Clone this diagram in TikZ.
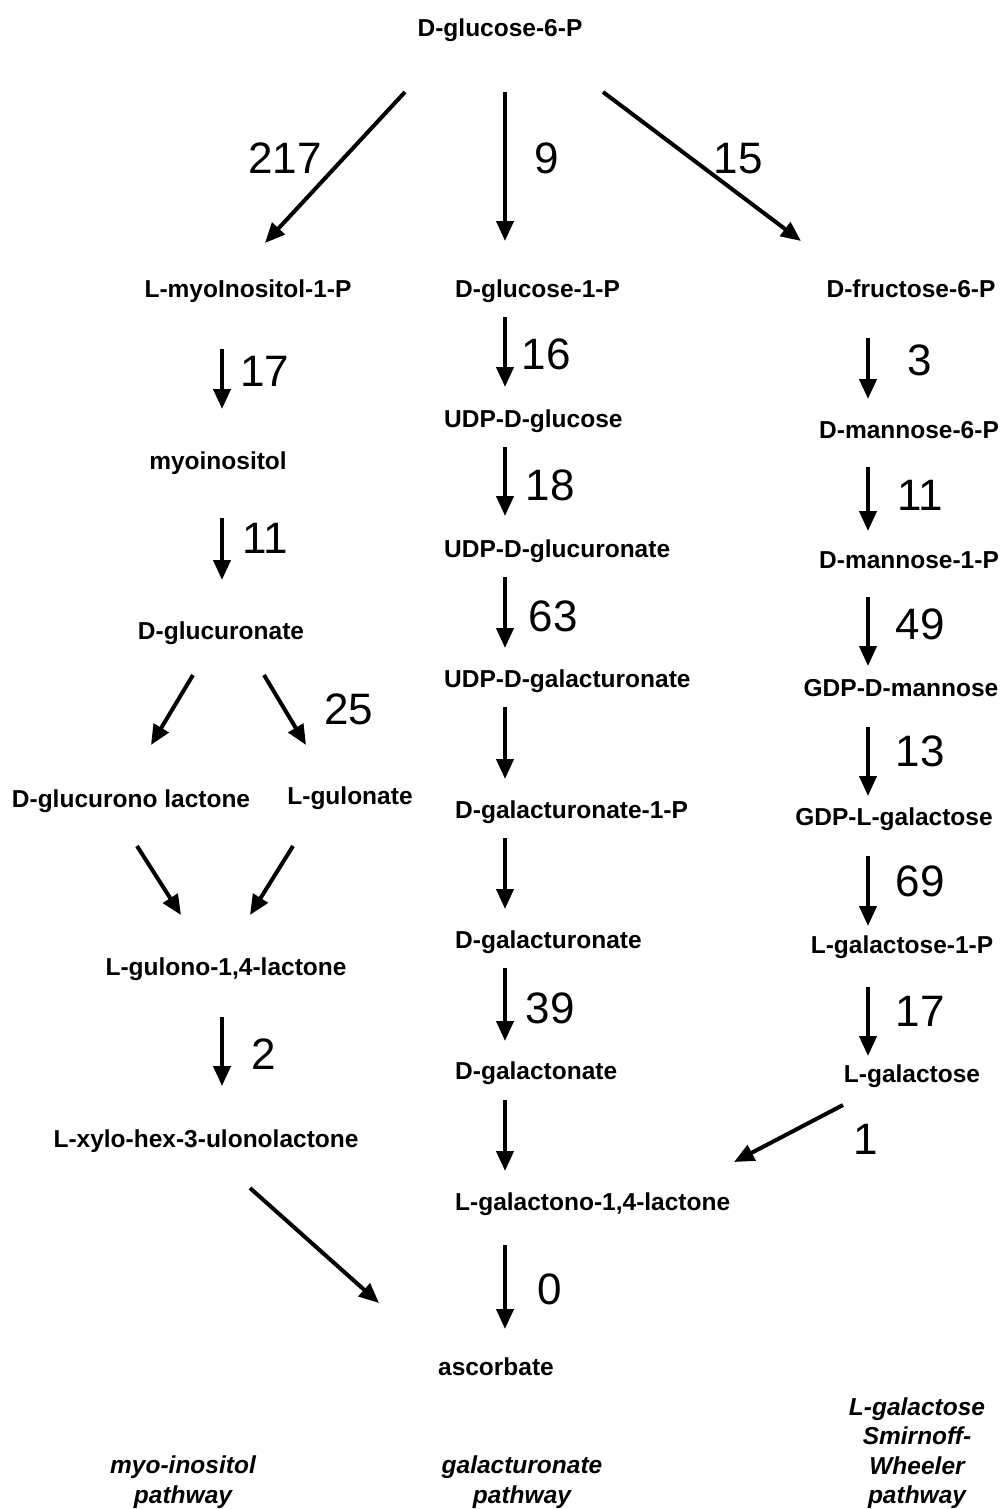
\documentclass[tikz,border=0pt]{standalone}
\usepackage{fontspec}
\setmainfont{Liberation Sans}
\usetikzlibrary{arrows.meta}
\tikzset{
  cpd/.style={font=\bfseries\fontsize{24.5}{29}\selectfont, inner sep=0pt, text height=19pt, text depth=2pt},
  num/.style={font=\fontsize{44}{50}\selectfont, inner sep=0pt, text height=32pt, text depth=0pt},
  pw/.style={font=\bfseries\itshape\fontsize{24.5}{29.3}\selectfont, align=center, inner sep=0pt},
  rx/.style={line width=4pt, -{Triangle[length=20pt,width=17pt]}}
}
\begin{document}
\begin{tikzpicture}[x=1pt,y=-1pt]
\useasboundingbox (0,0) rectangle (1002,1509);
% compounds
\node[cpd] (g6p) at (500,28) {D-glucose-6-P};
\node[cpd] (mip) at (248,289) {L-myoInositol-1-P};
\node[cpd,anchor=west] (g1p) at (455,289) {D-glucose-1-P};
\node[cpd] (f6p) at (911,289) {D-fructose-6-P};
\node[cpd] (myo) at (218,461) {myoinositol};
\node[cpd] (dgl) at (221,631) {D-glucuronate};
\node[cpd] (dgla) at (131,799) {D-glucurono lactone};
\node[cpd] (lgu) at (350,796) {L-gulonate};
\node[cpd] (lgl) at (226,967) {L-gulono-1,4-lactone};
\node[cpd] (xyl) at (206,1139) {L-xylo-hex-3-ulonolactone};
\node[cpd,anchor=west] (udpg) at (444,419) {UDP-D-glucose};
\node[cpd,anchor=west] (udpgu) at (444,549) {UDP-D-glucuronate};
\node[cpd,anchor=west] (udpga) at (444,679) {UDP-D-galacturonate};
\node[cpd,anchor=west] (ga1p) at (455,810) {D-galacturonate-1-P};
\node[cpd,anchor=west] (ga) at (455,940) {D-galacturonate};
\node[cpd,anchor=west] (gn) at (455,1071) {D-galactonate};
\node[cpd,anchor=west] (lgal) at (455,1202) {L-galactono-1,4-lactone};
\node[cpd] (asc) at (496,1367) {ascorbate};
\node[cpd] (m6p) at (909,430) {D-mannose-6-P};
\node[cpd] (m1p) at (909,560) {D-mannose-1-P};
\node[cpd] (gdpm) at (901,688) {GDP-D-mannose};
\node[cpd] (gdpg) at (894,817) {GDP-L-galactose};
\node[cpd] (lg1p) at (902,945) {L-galactose-1-P};
\node[cpd] (lgs) at (912,1074) {L-galactose};
% pathway labels
\node[pw] (pw1) at (183,1482) {myo-inositol\\pathway};
\node[pw] (pw2) at (522,1482) {galacturonate\\pathway};
\node[pw] (pw3) at (917,1453) {L-galactose\\Smirnoff-\\Wheeler\\pathway};
% arrow end points
\coordinate (a1s) at (405,92);  \coordinate (a1e) at (265,243);
\coordinate (a2s) at (505,92);  \coordinate (a2e) at (505,241);
\coordinate (a3s) at (603,92);  \coordinate (a3e) at (801,241);
\coordinate (b1s) at (222,349); \coordinate (b1e) at (222,409);
\coordinate (b2s) at (222,518); \coordinate (b2e) at (222,580);
\coordinate (b3s) at (193,675); \coordinate (b3e) at (151,745);
\coordinate (b4s) at (264,675); \coordinate (b4e) at (306,745);
\coordinate (b5s) at (137,846); \coordinate (b5e) at (181,915);
\coordinate (b6s) at (293,846); \coordinate (b6e) at (250,915);
\coordinate (b7s) at (222,1017); \coordinate (b7e) at (222,1086);
\coordinate (b8s) at (250,1188); \coordinate (b8e) at (379,1303);
\coordinate (c1s) at (505,317); \coordinate (c1e) at (505,387);
\coordinate (c2s) at (505,447); \coordinate (c2e) at (505,516);
\coordinate (c3s) at (505,577); \coordinate (c3e) at (505,648);
\coordinate (c4s) at (505,707); \coordinate (c4e) at (505,779);
\coordinate (c5s) at (505,838); \coordinate (c5e) at (505,909);
\coordinate (c6s) at (505,968); \coordinate (c6e) at (505,1041);
\coordinate (c7s) at (505,1100); \coordinate (c7e) at (505,1171);
\coordinate (c8s) at (505,1245); \coordinate (c8e) at (505,1329);
\coordinate (d1s) at (868,338); \coordinate (d1e) at (868,399);
\coordinate (d2s) at (868,467); \coordinate (d2e) at (868,531);
\coordinate (d3s) at (868,597); \coordinate (d3e) at (868,666);
\coordinate (d4s) at (868,727); \coordinate (d4e) at (868,796);
\coordinate (d5s) at (868,856); \coordinate (d5e) at (868,926);
\coordinate (d6s) at (868,987); \coordinate (d6e) at (868,1056);
\coordinate (d7s) at (843,1105); \coordinate (d7e) at (734,1162);
% arrows
\foreach \a in {a1,a2,a3,b1,b2,b3,b4,b5,b6,b7,b8,c1,c2,c3,c4,c5,c6,c7,c8,d1,d2,d3,d4,d5,d6,d7}
  \draw[rx] (\a s) -- (\a e);
% numbers
\node[num] (n217) at (285,157) {217};
\node[num] (n9) at (547,157) {9};
\node[num] (n15) at (738,157) {15};
\node[num] (n17a) at (265,370) {17};
\node[num] (n11a) at (265,537) {11};
\node[num] (n25) at (349,708) {25};
\node[num] (n2) at (264,1053) {2};
\node[num] (n16) at (546,353) {16};
\node[num] (n18) at (550,484) {18};
\node[num] (n63) at (553,615) {63};
\node[num] (n39) at (550,1007) {39};
\node[num] (n0) at (550,1288) {0};
\node[num] (n3) at (920,359) {3};
\node[num] (n11b) at (920,494) {11};
\node[num] (n49) at (920,623) {49};
\node[num] (n13) at (920,750) {13};
\node[num] (n69) at (920,880) {69};
\node[num] (n17b) at (920,1010) {17};
\node[num] (n1) at (866,1138) {1};
\end{tikzpicture}
\end{document}
